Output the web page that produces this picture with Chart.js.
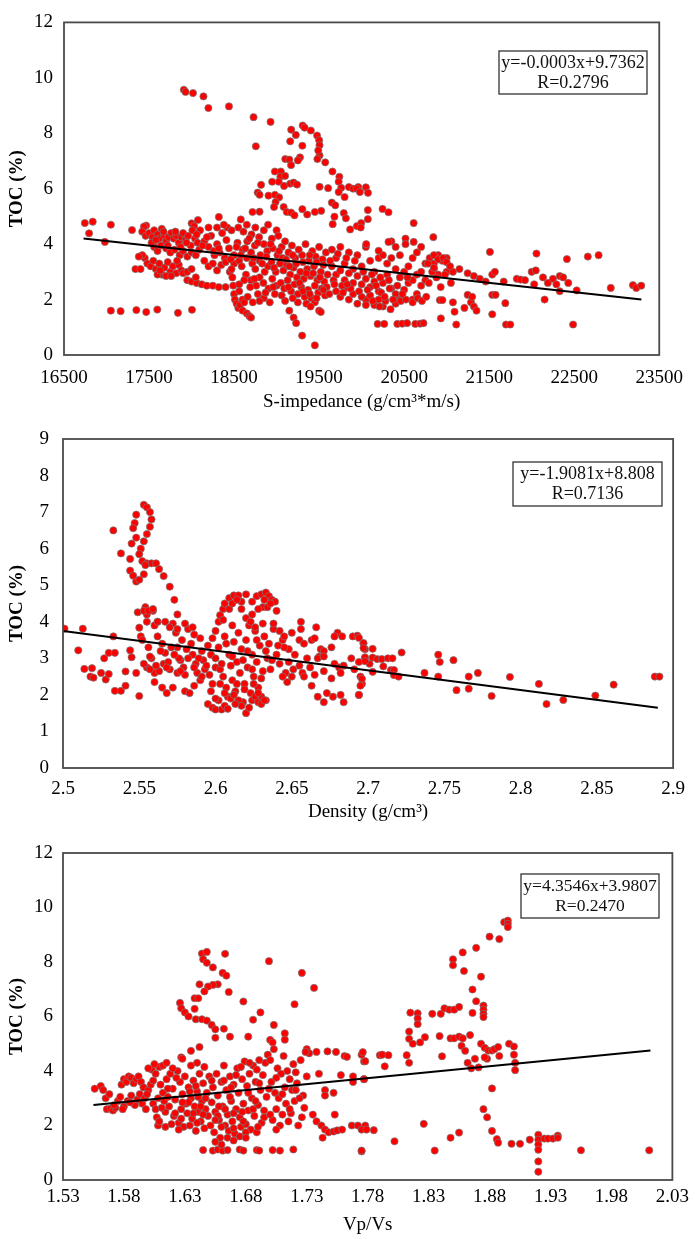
<!DOCTYPE html>
<html>
<head>
<script src="https://cdn.jsdelivr.net/npm/chart.js@4/dist/chart.umd.min.js"></script>
<style>
  body { margin: 0; background: #fff; }
  .panel { position: absolute; left: 0; width: 695px; }
</style>
</head>
<body>
<div class="panel" style="top:0"><canvas id="c1" width="695" height="412"></canvas></div>
<div class="panel" style="top:412px"><canvas id="c2" width="695" height="413"></canvas></div>
<div class="panel" style="top:825px"><canvas id="c3" width="695" height="414"></canvas></div>
<script>
// ---- data: [x, TOC %] ----
const impTicks = [16500, 17500, 18500, 19500, 20500, 21500, 22500, 23500];
const tocTicks12 = [0, 2, 4, 6, 8, 10, 12];
const densTicks = [2.5, 2.55, 2.6, 2.65, 2.7, 2.75, 2.8, 2.85, 2.9];
const tocTicks9 = [0, 1, 2, 3, 4, 5, 6, 7, 8, 9];
const vpvsTicks = [1.53, 1.58, 1.63, 1.68, 1.73, 1.78, 1.83, 1.88, 1.93, 1.98, 2.03];

const impFit = [[16730, 4.2], [23290, 2.0]];
const densFit = [[2.5, 3.75], [2.89, 1.65]];
const vpvsFit = [[1.555, 2.75], [2.012, 4.75]];

const impLabel = ['y=-0.0003x+9.7362', 'R=0.2796'];
const densLabel = ['y=-1.9081x+8.808', 'R=0.7136'];
const vpvsLabel = ['y=4.3546x+3.9807', 'R=0.2470'];

const impToc = [
  [17909,9.57],[17929,9.49],[18017,9.45],[18140,9.33],[18198,8.91],[18440,8.97],[18729,8.58],[18929,8.41],[18756,7.53],
  [19307,8.28],[19330,8.2],[19403,8.1],[19172,8.13],[19226,7.94],[19476,7.92],[19500,7.75],[19505,7.57],[19505,7.2],[19490,7.38],[19480,7.07],
  [19160,7.71],[19303,7.55],[19275,7.13],[19250,7.02],[19102,7.07],[19150,7.05],[19170,6.85],[19572,6.95],[19657,6.62],[19738,6.43],[19730,6.25],
  [18980,6.62],[19050,6.62],[19045,6.43],[19100,6.46],[19025,6.25],[19088,6.1],[19160,6.18],[19200,6.22],[19240,6.15],[18948,6.25],
  [18818,6.14],[18778,5.86],[18800,5.78],[18905,5.75],[18980,5.78],[19030,5.69],[18988,5.52],[18970,5.34],
  [19083,5.34],[19120,5.16],[19170,5.14],[19210,5.04],[19303,5.26],[19360,5.07],[19450,5.16],[19525,5.2],
  [19506,6.07],[19606,6.02],[19650,5.5],[19690,5.4],[19760,6.03],[19730,5.88],[19800,5.7],[19850,6.06],[19900,6.0],[19960,6.06],
  [19680,4.99],[19660,4.72],[19790,5.12],[19815,4.93],[19865,4.53],[19945,4.65],[18717,5.16],[18800,5.17],[18579,4.89],[18321,4.98],
  [18001,4.75],[18075,4.87],[18030,4.65],[17466,4.67],[17440,4.63],[17300,4.51],[17051,4.7],[16838,4.81],[16745,4.76],[16795,4.39],[16981,4.08],
  [17051,1.6],[17166,1.58],[17351,1.62],[17467,1.55],[17597,1.64],[17840,1.52],[18005,1.63],
  [17420,4.45],[17460,4.3],[17500,4.4],[17540,4.25],[17560,4.5],[17600,4.35],[17620,4.2],[17650,4.55],[17680,4.3],[17700,4.1],
  [17730,4.25],[17760,4.4],[17790,4.2],[17820,4.3],[17850,4.05],[17880,4.25],[17900,4.4],[17930,4.15],[17960,4.3],[17990,3.95],
  [18010,4.5],[18040,4.2],[18070,4.05],[17560,3.9],[17600,3.75],[17640,3.95],[17700,3.85],[17750,3.7],[17800,3.8],[17860,3.6],
  [17900,3.75],[17950,3.55],[18000,3.7],[18050,3.6],[18090,3.8],
  [17450,3.5],[17480,3.3],[17520,3.2],[17550,3.4],[17580,3.1],[17620,3.3],[17650,2.9],[17680,3.15],[17720,3.35],[17750,3.0],
  [17780,3.2],[17820,2.95],[17850,3.25],[17880,3.05],[17700,2.85],[17600,2.9],[17340,3.1],[17400,3.1],[17420,3.6],[17380,3.55],
  [17950,2.7],[18000,2.65],[18060,2.6],[18120,2.55],[18180,2.5],[18250,2.5],[18320,2.45],[18400,2.45],
  [17900,2.95],[17950,3.0],[18000,3.1],[18050,2.8],
  [18100,4.5],[18150,4.1],[18200,3.9],[18230,4.3],[18270,3.6],[18300,4.0],[18330,3.7],[18360,4.4],[18390,3.5],[18420,4.6],
  [18440,3.85],[18470,4.5],[18500,3.6],[18150,3.4],[18200,3.2],[18250,3.3],[18300,3.05],[18350,3.25],[18400,3.35],[18450,3.0],
  [18500,3.3],[18380,4.7],[18300,4.6],[18200,4.6],
  [18470,3.1],[18480,2.8],[18490,2.5],[18500,2.2],[18510,2.0],[18530,1.85],[18550,1.7],[18570,1.8],[18600,1.6],[18650,1.5],
  [18680,1.4],[18700,1.35],[18560,2.3],[18600,2.0],[18620,1.9],[18660,2.1],
  [18550,4.6],[18610,4.45],[18650,4.7],[18705,4.35],[18750,4.6],[18795,4.25],[18850,4.5],[18900,4.7],[18945,4.2],[19000,4.5],
  [18540,4.05],[18600,3.8],[18655,4.1],[18700,3.7],[18745,3.95],[18810,3.6],[18850,4.0],[18890,3.75],[18955,3.85],[19010,3.6],
  [18560,3.4],[18590,3.2],[18650,3.5],[18715,3.3],[18750,3.1],[18800,3.4],[18860,3.0],[18900,3.2],[18940,3.35],[18990,3.0],
  [18640,2.9],[18700,2.7],[18760,2.5],[18800,2.8],[18845,2.6],[18905,2.4],[18950,2.75],[19000,2.5],[18780,2.2],[18850,2.05],
  [18920,1.9],[18980,2.2],[18720,1.9],[18800,1.95],
  [19020,4.3],[19060,3.9],[19100,4.1],[19140,3.7],[19180,3.95],[19220,3.5],[19260,3.8],[19300,3.6],[19340,4.0],[19380,3.4],
  [19420,3.75],[19460,3.55],[19500,3.9],[19540,3.45],[19580,3.7],
  [19040,3.3],[19080,3.05],[19120,3.25],[19160,2.9],[19200,3.15],[19240,2.8],[19280,3.0],[19320,2.75],[19360,3.1],[19400,2.85],
  [19440,3.2],[19480,2.7],[19520,3.0],[19560,2.65],[19600,2.9],
  [19050,2.6],[19090,2.4],[19130,2.7],[19170,2.3],[19210,2.55],[19250,2.2],[19290,2.45],[19330,2.1],[19370,2.35],[19410,2.05],
  [19450,2.5],[19490,2.25],[19530,2.4],[19570,2.15],
  [19100,1.95],[19150,1.6],[19200,1.35],[19230,1.15],[19300,0.7],[19450,0.35],[19350,1.85],[19450,1.9],[19500,1.6],[19520,1.55],
  [19400,1.75],[19250,1.9],
  [19650,3.8],[19700,3.5],[19750,3.9],[19800,3.3],[19850,3.7],[19900,3.1],[19950,3.6],[20000,3.2],[20050,3.9],[20100,3.4],
  [20150,3.0],[20200,3.5],[19650,3.2],[19700,2.9],[19750,3.05],[19800,2.7],[19850,2.95],[19900,2.6],[19950,2.85],[20000,2.55],
  [20050,2.75],[20100,2.45],[20150,2.65],[20200,2.3],[19700,2.3],[19750,2.1],[19800,2.4],[19850,2.0],[19900,2.2],[19950,1.85],
  [20050,2.0],[20100,2.15],[20150,1.8],[20200,2.0],[20250,1.75],
  [20250,2.6],[20300,2.9],[20350,2.4],[20400,3.1],[20300,3.3],[20250,3.6],[20350,3.5],[20400,2.2],[20450,2.0],[20500,2.35],
  [20550,2.6],[20450,2.8],[20500,3.0],[20550,3.2],[20600,2.7],[20650,2.9],[20600,2.0],[20650,2.2],[20700,2.5],[20700,3.0],
  [20750,3.3],[20750,2.7],[20600,3.5],[20650,3.7],[20700,3.9],[20800,3.5],[20850,3.3],[20900,3.6],[20950,3.4],[21000,3.5],
  [20850,3.1],[20900,2.9],[21000,3.0],[20450,3.6],[20400,3.9],[20350,4.1],
  [19940,6.0],[19980,5.88],[20050,6.05],[20075,5.85],[20073,5.23],[20073,4.9],[19995,4.76],[19990,4.6],[20246,5.27],[20316,5.15],
  [20612,4.76],[20516,4.2],[20516,4.0],[20612,4.08],[20843,4.25],[20316,4.08],[20054,4.0],[20200,3.76],
  [20188,1.12],[20266,1.12],[20420,1.12],[20477,1.13],[20535,1.15],[20631,1.12],[20689,1.13],[20727,1.15],[20932,1.32],[21113,1.1],
  [21698,1.1],[21748,1.1],[22487,1.1],
  [21509,3.72],[22056,3.66],[22414,3.46],[22660,3.55],[22787,3.6],
  [21074,3.0],[21150,3.1],[21247,2.95],[21320,2.85],[21390,2.75],[21459,2.65],[21536,2.9],[21567,3.0],[21671,2.65],[21825,2.75],
  [21870,2.72],[21921,2.7],[22000,3.0],[22048,3.05],[22029,2.55],[22133,2.8],[22190,2.6],[22250,2.75],[22290,2.55],[22330,2.85],
  [22370,2.8],[22430,2.6],[22330,2.3],[22529,2.33],[22930,2.42],[23191,2.52],[23230,2.42],[23288,2.5],[22152,2.0],[21690,1.87],
  [21536,2.17],[21575,2.17],[21074,1.9],[21093,1.56],[20920,1.98],[20950,1.98],[21209,1.7],[21286,1.9],[21320,1.75],[21351,1.6],
  [21536,1.47],[21247,2.17],[21300,2.1],
  [20780,3.3],[20850,3.6],[20900,3.45],[20960,3.5],[21000,3.35],[21040,3.2],[20830,3.0],[20880,2.8],[20980,2.9],[21050,2.6],
  [20930,2.45],[20790,2.6],[20850,3.15],
  [20000,2.1],[20050,1.8],[20130,1.95],[20210,1.75],[20280,1.95],[20340,1.65],[20400,1.85],[20460,1.95],[20520,2.0],[20600,1.9],
  [20660,2.05],[20710,1.95],[20760,2.1],[20230,2.25],[20330,2.4],
  [17530,4.05],[17580,4.15],[17670,4.45],[17720,3.95],[17810,4.45],[17870,3.9],[17940,4.05],[18060,4.35],[18130,3.95],[18180,4.25],
  [18260,3.75],[18320,3.85],[18410,4.15],[18460,3.45],[18530,3.9],[18580,3.6],[18630,3.85],[18680,4.2],[18730,3.5],[18780,4.05],
  [18830,3.3],[18880,3.55],[18930,4.0],[18970,3.15],[19030,3.75],[19070,3.5],[19110,3.45],[19150,3.2],[19190,3.6],[19230,3.3],
  [19270,2.6],[19310,3.35],[19350,2.95],[19390,3.6],[19430,2.95],[19470,3.35],[19510,2.8],[19550,3.25],[19590,2.45],[19630,3.4],
  [19670,2.7],[19720,3.65],[19770,2.5],[19820,3.5],[19870,2.4],[19920,3.4],[19970,2.3],[20020,3.0],[20070,2.35],[20120,2.9],
  [20170,2.5],[20220,2.8],[20270,2.1],[20320,2.7],[20370,2.0],[20420,2.5],[20480,2.2],[20540,2.8],[17630,3.05],[17760,2.85],
  [17830,3.4],[18560,2.55],[18620,2.7],[18690,2.45],[18740,2.75],[18870,2.25],[18960,2.45],[19060,2.15],[19140,2.45],[19190,2.05],
  [19310,2.3],[19390,2.2],[19470,2.05],[19550,2.35],[19620,2.2],[19680,2.55],[19780,2.25],[19830,2.55]
];

const densToc = [
  [2.553,7.2],[2.555,7.13],[2.557,7.0],[2.558,6.8],[2.557,6.6],[2.555,6.4],[2.553,6.2],[2.551,6.0],[2.55,5.85],[2.552,5.66],
  [2.555,5.6],[2.558,5.6],[2.561,5.6],[2.563,5.44],[2.566,5.25],[2.57,4.96],[2.573,4.6],[2.575,4.2],
  [2.548,6.93],[2.547,6.7],[2.546,6.56],[2.548,6.3],[2.545,6.14],[2.544,5.72],[2.544,5.4],[2.546,5.26],[2.548,5.1],[2.55,5.15],
  [2.553,5.3],[2.554,5.55],[2.554,4.4],[2.538,5.87],[2.533,6.5],
  [2.549,4.26],[2.555,4.2],[2.559,4.3],[2.55,3.84],[2.551,3.6],[2.555,4.0],[2.562,4.0],[2.56,3.9],
  [2.501,3.81],[2.513,3.81],[2.51,3.22],[2.514,2.71],[2.519,2.73],[2.518,2.5],[2.52,2.47],[2.525,2.6],[2.528,2.42],[2.53,2.57],
  [2.527,3.0],[2.53,3.15],[2.534,3.15],[2.533,3.6],[2.534,2.11],[2.538,2.11],[2.541,2.25],[2.541,2.64],[2.545,3.03],[2.544,3.22],
  [2.548,2.6],[2.55,1.97],
  [2.552,3.5],[2.556,3.3],[2.558,3.0],[2.555,2.75],[2.56,2.6],[2.562,3.6],[2.565,3.4],[2.567,3.15],[2.566,2.85],[2.57,2.7],
  [2.572,3.95],[2.574,3.7],[2.575,3.3],[2.577,2.95],[2.579,2.75],[2.58,2.55],[2.578,3.5],[2.582,3.8],[2.584,3.4],[2.585,3.1],
  [2.587,2.85],[2.588,2.6],[2.59,3.55],[2.591,3.2],[2.592,2.95],[2.593,2.7],[2.56,2.35],[2.565,2.2],[2.568,2.05],[2.572,2.2],
  [2.575,2.6],[2.58,2.1],[2.583,2.05],[2.586,2.25],[2.59,2.4],[2.553,2.85],[2.557,2.7],[2.563,2.65],[2.569,2.9],[2.571,3.3],
  [2.576,3.0],[2.581,3.25],[2.586,3.65],[2.589,3.0],[2.594,2.8],[2.596,2.55],[2.598,2.3],[2.6,2.75],[2.597,3.1],[2.595,3.35],
  [2.553,4.3],[2.556,4.3],[2.559,4.35],[2.562,4.0],[2.567,4.0],[2.57,3.85],[2.575,3.8],[2.58,3.95],[2.585,3.85],
  [2.6,3.0],[2.602,3.3],[2.603,2.7],[2.605,2.5],[2.606,3.6],[2.607,2.2],[2.608,1.95],[2.609,3.1],[2.61,2.8],[2.611,2.4],
  [2.612,3.45],[2.613,2.1],[2.614,2.9],[2.615,3.7],[2.616,2.6],[2.617,3.25],[2.618,1.8],[2.619,2.3],[2.62,3.5],[2.621,2.75],
  [2.622,3.9],[2.623,2.05],[2.624,3.1],[2.625,2.5],[2.626,3.75],[2.627,2.9],[2.628,2.2],[2.629,3.35],[2.63,1.95],[2.631,2.65],
  [2.632,3.6],[2.633,1.85],[2.634,3.0],[2.635,3.4],[2.636,2.7],[2.638,3.8],[2.64,3.1],[2.642,2.85],[2.644,3.5],[2.646,2.6],
  [2.648,3.25],
  [2.595,1.75],[2.598,1.65],[2.6,1.6],[2.602,1.85],[2.604,1.6],[2.606,1.7],[2.608,1.62],[2.61,1.9],[2.612,2.0],[2.615,1.85],
  [2.617,1.7],[2.62,1.5],[2.622,1.65],[2.624,1.85],[2.626,1.95],[2.628,1.8],[2.63,1.75],[2.632,1.85],[2.628,2.05],[2.6,1.9],
  [2.597,2.1],[2.603,2.3],
  [2.598,3.55],[2.6,3.75],[2.602,4.0],[2.603,4.18],[2.605,4.35],[2.606,4.5],[2.609,4.65],[2.612,4.72],[2.615,4.72],[2.617,4.55],
  [2.617,4.35],[2.62,4.75],[2.609,4.35],[2.611,4.5],[2.614,4.6],[2.605,4.05],[2.611,3.9],
  [2.624,4.55],[2.627,4.7],[2.63,4.75],[2.633,4.8],[2.635,4.7],[2.637,4.6],[2.639,4.55],[2.631,4.4],[2.634,4.4],[2.628,4.35],
  [2.624,4.2],[2.64,4.3],[2.636,4.5],[2.632,4.6],
  [2.62,4.1],[2.623,4.0],[2.626,3.85],[2.631,3.95],[2.638,3.95],[2.642,3.75],[2.645,3.6],[2.65,3.7],[2.655,3.5],
  [2.645,3.3],[2.648,2.9],[2.651,2.7],[2.652,3.1],[2.655,2.8],[2.657,2.6],[2.66,3.0],[2.662,2.75],[2.658,3.4],[2.65,2.5],
  [2.647,2.35],[2.644,2.5],[2.665,2.55],[2.668,3.05],
  [2.656,4.0],[2.656,3.8],[2.666,3.85],[2.663,3.5],[2.665,3.55],[2.669,3.25],[2.671,3.2],[2.676,3.3],[2.68,3.7],[2.683,3.6],
  [2.678,3.6],[2.69,3.6],[2.693,3.62],[2.697,3.4],[2.698,3.25],[2.667,3.0],[2.671,3.05],[2.678,2.85],[2.681,2.75],[2.684,2.8],
  [2.689,3.0],[2.694,2.9],[2.698,3.0],[2.658,2.5],[2.671,2.65],[2.676,2.45],[2.682,2.6],[2.691,2.7],[2.695,2.5],[2.663,2.25],
  [2.667,1.95],[2.671,1.8],[2.673,2.05],[2.677,1.95],[2.682,2.0],[2.684,1.8],[2.694,2.0],[2.696,2.3],
  [2.694,3.56],[2.697,3.42],[2.697,3.28],[2.703,3.26],[2.698,3.03],[2.703,3.02],[2.706,2.98],[2.709,2.98],[2.713,3.0],[2.716,3.0],
  [2.722,3.16],[2.701,2.85],[2.698,2.92],[2.71,2.78],[2.715,2.68],[2.717,2.68],[2.703,2.63],[2.717,2.54],[2.72,2.5],[2.696,2.44],
  [2.695,2.25],[2.694,2.0],
  [2.737,2.6],[2.746,3.1],[2.747,2.9],[2.756,2.95],[2.746,2.5],[2.758,2.13],[2.766,2.5],[2.766,2.17],[2.772,2.6],[2.781,1.97],
  [2.793,2.49],[2.812,2.3],[2.817,1.75],[2.828,1.86],[2.849,1.98],[2.861,2.28],[2.888,2.5],[2.891,2.5],
  [2.557,3.05],[2.561,2.8],[2.564,3.2],[2.568,2.75],[2.573,3.1],[2.577,2.65],[2.582,3.0],[2.586,2.75],[2.591,2.5],[2.604,2.85],
  [2.607,3.4],[2.611,3.05],[2.614,2.3],[2.618,2.95],[2.621,3.2],[2.624,2.7],[2.627,3.5],[2.63,2.45],[2.633,3.2],[2.637,2.95],
  [2.641,3.35],[2.606,2.05],[2.613,1.75],[2.619,2.15],[2.625,2.3]
];

const vpvsToc = [
  [1.644,8.31],[1.648,8.37],[1.645,8.1],[1.648,7.97],[1.653,7.8],[1.663,8.3],[1.661,7.6],[1.664,7.5],[1.666,6.9],[1.699,8.03],
  [1.726,7.6],[1.736,7.05],
  [1.657,7.18],[1.653,7.16],[1.649,7.1],[1.646,6.92],[1.642,7.18],[1.638,6.67],[1.641,6.67],[1.638,6.28],[1.626,6.5],[1.627,6.3],
  [1.63,6.15],[1.633,6.0],[1.639,5.9],[1.644,5.9],[1.648,5.85],[1.652,5.69],[1.655,5.53],[1.655,5.22],[1.662,5.55],[1.667,5.26],
  [1.678,6.55],[1.686,5.88],[1.692,6.15],[1.703,5.69],[1.682,5.26],[1.7,5.14],[1.702,5.05],[1.712,5.38],[1.712,5.15],[1.72,6.45],
  [1.642,4.88],[1.635,4.74],[1.627,4.5],
  [1.73,4.8],[1.732,4.65],[1.738,4.7],[1.747,4.72],[1.754,4.7],[1.761,4.55],[1.763,4.52],[1.775,4.6],[1.777,4.35],
  [1.74,3.9],[1.745,3.3],[1.752,3.2],[1.745,3.1],[1.758,3.85],[1.768,3.6],[1.768,3.8],[1.777,3.7],[1.753,2.4],[1.735,2.4],
  [1.738,2.15],[1.742,2.0],[1.745,1.85],[1.748,1.75],[1.752,1.78],[1.755,1.82],[1.759,1.85],[1.743,1.55],[1.767,2.0],[1.772,2.0],
  [1.778,2.0],[1.775,1.05],
  [1.645,1.1],[1.653,1.08],[1.657,1.12],[1.661,1.08],[1.665,1.1],[1.675,1.12],[1.678,1.08],[1.689,1.1],[1.691,1.08],[1.702,1.1],
  [1.708,1.08],[1.719,1.12],
  [1.776,4.69],[1.778,4.36],[1.777,3.7],[1.79,4.58],[1.792,4.6],[1.797,4.58],[1.794,4.17],[1.812,4.58],[1.814,4.3],
  [1.815,6.14],[1.821,6.12],[1.821,5.93],[1.821,5.72],[1.814,5.45],[1.814,5.18],[1.817,5.0],[1.823,5.05],[1.827,5.24],
  [1.833,6.1],[1.84,6.1],[1.843,6.3],[1.847,6.25],[1.851,6.25],[1.855,6.35],[1.839,5.28],[1.841,4.54],[1.848,5.2],[1.851,5.2],
  [1.855,5.26],[1.858,5.2],[1.857,4.92],[1.86,4.74],[1.864,5.32],
  [1.85,8.1],[1.85,7.88],[1.858,8.35],[1.859,7.67],[1.869,8.52],[1.873,7.46],[1.866,6.99],[1.869,6.56],[1.866,6.13],
  [1.875,6.4],[1.875,6.25],[1.875,6.1],[1.875,5.98],[1.88,8.93],[1.888,8.84],[1.892,9.46],[1.895,9.52],[1.895,9.4],[1.895,9.28],
  [1.862,4.3],[1.865,4.1],[1.868,4.45],[1.871,4.13],
  [1.873,5.0],[1.876,4.85],[1.879,4.75],[1.878,4.45],[1.882,4.75],[1.884,4.8],[1.887,4.88],[1.888,4.55],[1.876,4.5],
  [1.896,5.0],[1.9,4.9],[1.9,4.6],[1.901,4.3],[1.901,4.03],
  [1.882,3.36],[1.875,2.6],[1.878,2.3],[1.882,1.8],[1.886,1.5],[1.887,1.37],[1.898,1.33],[1.905,1.33],[1.913,1.48],
  [1.92,1.66],[1.92,1.48],[1.92,1.3],[1.92,1.11],[1.92,0.68],[1.92,0.3],[1.925,1.52],[1.928,1.52],[1.932,1.52],[1.936,1.63],
  [1.936,1.55],[1.955,1.09],[2.011,1.09],
  [1.826,2.06],[1.848,1.55],[1.855,1.74],[1.835,1.08],[1.802,1.42],[1.775,1.08],[1.775,1.85],[1.779,1.85],[1.785,1.83],
  [1.556,3.35],[1.561,3.45],[1.563,3.3],[1.566,2.6],[1.569,2.62],[1.571,2.55],[1.573,2.65],[1.575,2.9],[1.577,3.05],[1.578,3.5],
  [1.58,3.7],[1.582,3.6],[1.584,3.8],[1.586,3.75],[1.588,3.55],[1.59,3.7],[1.592,3.8],[1.594,3.6],[1.596,3.4],[1.58,2.7],
  [1.583,2.9],[1.586,3.1],[1.589,2.75],[1.591,2.95],[1.593,3.15],[1.595,2.8],[1.597,3.0],[1.6,3.3],[1.602,3.5],[1.598,2.6],
  [1.579,2.6],[1.572,2.75],[1.565,3.0],[1.568,3.15],
  [1.603,4.05],[1.606,3.9],[1.609,4.15],[1.612,4.2],[1.604,2.8],[1.606,2.6],[1.607,2.3],[1.608,2.0],[1.609,2.15],[1.61,3.5],
  [1.612,3.2],[1.613,2.9],[1.614,2.5],[1.615,3.7],[1.617,2.7],[1.618,3.9],[1.62,3.35],[1.621,2.35],[1.622,2.95],[1.624,4.0],
  [1.625,2.1],[1.626,3.6],[1.627,2.6],[1.628,3.15],[1.629,1.95],[1.63,3.8],[1.631,2.8],[1.632,2.45],[1.633,3.4],[1.634,2.0],
  [1.635,3.0],[1.636,2.25],[1.637,3.65],[1.638,2.7],[1.639,1.8],[1.64,3.25],[1.641,2.5],[1.642,3.9],[1.643,2.15],[1.644,2.9],
  [1.645,3.55],[1.646,1.9],[1.647,2.6],[1.648,3.2],[1.649,2.35],[1.65,3.8],[1.608,3.0],[1.616,3.05],[1.622,2.45],[1.627,2.25],
  [1.633,2.85],[1.64,2.1],[1.645,2.4],[1.614,1.95],[1.619,2.05],[1.625,1.85],
  [1.651,2.0],[1.652,2.85],[1.653,3.4],[1.654,1.75],[1.655,2.5],[1.656,3.9],[1.657,3.1],[1.658,2.2],[1.659,1.55],[1.66,3.6],
  [1.661,2.7],[1.662,4.2],[1.663,2.0],[1.664,3.3],[1.665,2.4],[1.666,1.8],[1.667,3.8],[1.668,2.9],[1.669,2.15],[1.67,3.5],
  [1.671,1.7],[1.672,2.6],[1.673,4.1],[1.674,3.2],[1.675,2.3],[1.676,1.95],[1.677,3.7],[1.678,2.8],[1.679,4.35],[1.68,2.05],
  [1.681,3.45],[1.682,2.55],[1.683,3.9],[1.684,1.85],[1.685,3.0],[1.686,4.2],[1.687,2.35],[1.688,3.6],[1.689,1.75],[1.69,2.75],
  [1.691,4.4],[1.692,3.3],[1.693,2.1],[1.694,3.85],[1.695,2.55],[1.696,4.3],[1.697,3.05],[1.655,1.4],[1.66,1.3],[1.665,1.55],
  [1.67,1.45],[1.675,1.6],[1.68,1.75],[1.658,2.7],[1.668,3.4],[1.678,2.15],[1.688,2.9],[1.67,2.45],
  [1.698,4.6],[1.7,4.4],[1.701,3.6],[1.702,2.2],[1.703,4.8],[1.704,3.2],[1.705,2.6],[1.706,4.1],[1.707,3.0],[1.708,2.0],
  [1.709,3.9],[1.71,2.4],[1.711,4.55],[1.712,3.4],[1.713,2.8],[1.714,4.0],[1.715,2.15],[1.716,3.7],[1.717,2.45],[1.718,3.3],
  [1.719,4.25],[1.72,2.9],[1.722,3.55],[1.723,2.0],[1.725,4.4],[1.727,3.1],[1.728,2.65],[1.73,3.8],[1.724,3.0],[1.721,3.95],
  [1.726,2.3],[1.729,4.7],
  [1.6,4.1],[1.605,4.25],[1.615,4.3],[1.62,4.1],[1.628,4.45],[1.635,4.2],[1.64,4.3],[1.646,4.15],
  [1.585,2.85],[1.599,3.15],[1.604,3.65],[1.611,2.65],[1.616,3.35],[1.623,3.75],[1.628,2.85],[1.634,3.25],[1.639,3.45],[1.643,2.7],
  [1.647,3.0],[1.652,3.65],[1.657,2.35],[1.663,2.6],[1.667,3.05],[1.672,3.85],[1.677,2.5],[1.682,3.2],[1.686,2.6],[1.691,3.55],
  [1.695,2.3],[1.699,3.35],[1.705,3.75],[1.71,3.15],[1.716,2.6],[1.721,3.3],[1.683,4.3],[1.676,4.15],[1.689,4.05],[1.662,3.65],
  [1.641,3.05],[1.637,2.45],[1.655,2.2],[1.66,1.95],[1.67,1.9],[1.68,1.55],[1.69,1.95],[1.7,2.4],[1.705,1.85]
];

// ---- drawing ----
const serif = '"Liberation Serif", "Times New Roman", serif';

const framePlugin = {
  id: 'frame',
  afterDraw(chart, args, opts) {
    const { ctx, chartArea: a } = chart;
    ctx.save();
    ctx.strokeStyle = '#4a4a4a';
    ctx.lineWidth = 1.8;
    ctx.strokeRect(a.left, a.top, a.right - a.left, a.bottom - a.top);
    const b = opts.box;
    ctx.fillStyle = '#fff';
    ctx.fillRect(b[0], b[1], b[2], b[3]);
    ctx.strokeStyle = '#333';
    ctx.lineWidth = 1.3;
    ctx.strokeRect(b[0], b[1], b[2], b[3]);
    ctx.fillStyle = '#111';
    ctx.textAlign = 'center';
    ctx.textBaseline = 'middle';
    // shrink the equation text until it fits inside its box
    let size = 18;
    ctx.font = size + 'px ' + serif;
    while (ctx.measureText(opts.lines[0]).width > b[2] - 4 && size > 12) {
      size -= 0.5;
      ctx.font = size + 'px ' + serif;
    }
    ctx.fillText(opts.lines[0], b[0] + b[2] / 2, b[1] + 12);
    ctx.fillText(opts.lines[1], b[0] + b[2] / 2, b[1] + 32);
    ctx.restore();
  }
};

function fmt(v) { return String(+v.toFixed(2)); }

function makeChart(id, pts, fit, xTicks, yTicks, xTitle, lines, L) {
  new Chart(document.getElementById(id), {
    type: 'scatter',
    data: {
      datasets: [{
        type: 'line',
        data: fit.map(p => ({ x: p[0], y: p[1] })),
        borderColor: '#000',
        borderWidth: 2,
        pointRadius: 0,
        fill: false
      }, {
        data: pts.map(p => ({ x: p[0], y: p[1] })),
        pointRadius: 3.6,
        pointBackgroundColor: '#ff0000',
        pointBorderColor: 'rgba(120,120,120,0.9)',
        pointBorderWidth: 0.8
      }]
    },
    options: {
      responsive: false,
      animation: false,
      layout: { padding: { left: 0, top: L.top, right: L.right, bottom: 0 } },
      plugins: {
        legend: { display: false },
        tooltip: { enabled: false },
        frame: { box: L.box, lines: lines }
      },
      scales: {
        x: {
          type: 'linear',
          min: xTicks[0],
          max: xTicks[xTicks.length - 1],
          grid: { display: false, drawTicks: false },
          border: { display: false },
          ticks: {
            stepSize: xTicks[1] - xTicks[0],
            autoSkip: false,
            maxRotation: 0,
            padding: L.xPad,
            color: '#000',
            font: { family: serif, size: 19 },
            callback: fmt
          },
          title: {
            display: true,
            text: xTitle,
            color: '#000',
            font: { family: serif, size: 19 },
            padding: { top: 0, bottom: L.xTitlePad }
          },
          afterFit: s => { s.height = L.h - L.bottom; }
        },
        y: {
          min: yTicks[0],
          max: yTicks[yTicks.length - 1],
          grid: { display: false, drawTicks: false },
          border: { display: false },
          ticks: {
            stepSize: yTicks[1] - yTicks[0],
            autoSkip: false,
            padding: L.yPad,
            color: '#000',
            font: { family: serif, size: 19 },
            callback: fmt
          },
          title: {
            display: true,
            text: 'TOC (%)',
            color: '#000',
            font: { family: serif, size: 19, weight: 'bold' },
            padding: { top: 6, bottom: 0 }
          },
          afterFit: s => { s.width = L.left; }
        }
      }
    },
    plugins: [framePlugin]
  });
}

makeChart('c1', impToc, impFit, impTicks, tocTicks12, 'S-impedance (g/cm\u00B3*m/s)', impLabel,
  { h: 412, top: 21, right: 25, left: 64, bottom: 355, xPad: 12, xTitlePad: -1, yPad: 11, box: [499, 51, 148, 43] });
makeChart('c2', densToc, densFit, densTicks, tocTicks9, 'Density (g/cm\u00B3)', densLabel,
  { h: 413, top: 27, right: 17, left: 63, bottom: 356, xPad: 10, xTitlePad: 2, yPad: 14, box: [513, 50, 149, 44] });
makeChart('c3', vpvsToc, vpvsFit, vpvsTicks, tocTicks12, 'Vp/Vs', vpvsLabel,
  { h: 414, top: 28, right: 22, left: 63, bottom: 355, xPad: 6, xTitlePad: 3, yPad: 10, box: [521, 49, 138, 44] });
</script>
</body>
</html>
